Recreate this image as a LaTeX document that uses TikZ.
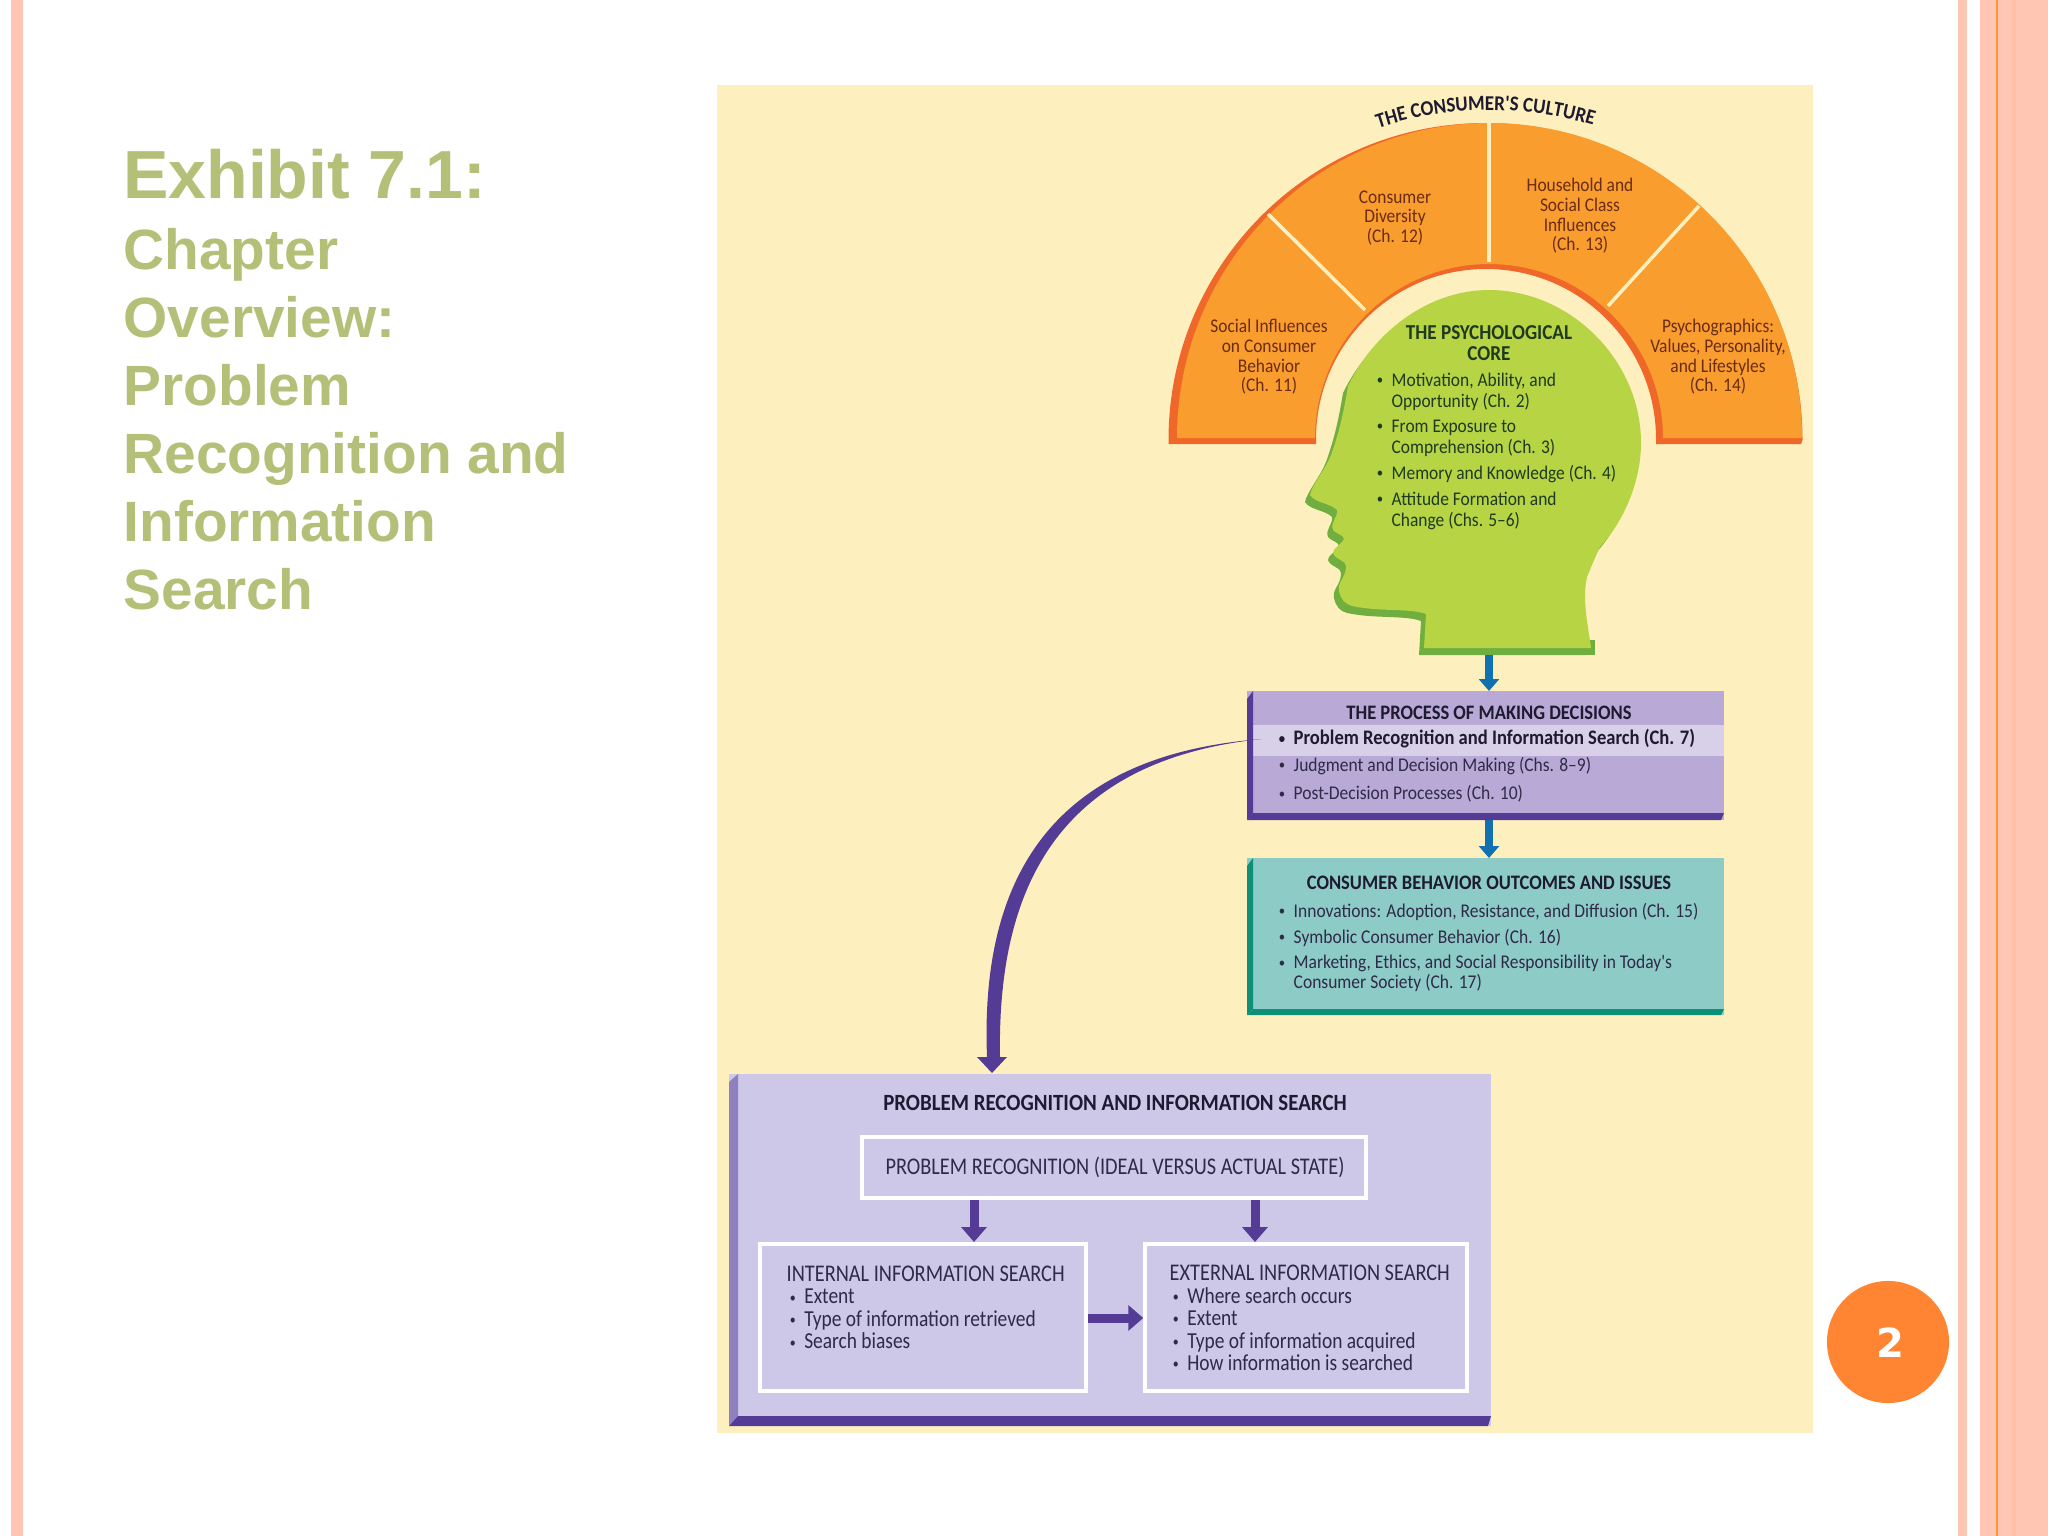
\documentclass[tikz,border=0pt]{standalone}
\usepackage{fontspec}
\setmainfont{Liberation Sans}
\newfontfamily\condfont[FakeStretch=0.9]{Carlito}
\newfontfamily\narrowfont[FakeStretch=0.85]{Carlito}
\newfontfamily\numfont{DejaVu Sans}
\usetikzlibrary{arrows.meta,decorations.text,fit}
\definecolor{stripe}{HTML}{FFC6B4}
\definecolor{panel}{HTML}{FEF0BE}
\definecolor{titlegreen}{HTML}{B4BF78}
\definecolor{orangelight}{HTML}{F99D2E}
\definecolor{orangedark}{HTML}{EF682A}
\definecolor{headlight}{HTML}{B6D444}
\definecolor{headdark}{HTML}{6FAE3F}
\definecolor{proclight}{HTML}{B8A9D6}
\definecolor{procband}{HTML}{D8CFE8}
\definecolor{purpledark}{HTML}{543C96}
\definecolor{outlight}{HTML}{8DCBC7}
\definecolor{outdark}{HTML}{0E8F78}
\definecolor{searchlight}{HTML}{CEC8E8}
\definecolor{searchedge}{HTML}{8F80C0}
\definecolor{bluearrow}{HTML}{1070B0}
\definecolor{pagedot}{HTML}{FF8533}
\definecolor{orangetext}{HTML}{6A2C14}
\definecolor{greentext}{HTML}{1F3A20}
\definecolor{darkink}{HTML}{1E1A30}
\definecolor{softink}{HTML}{2F2A48}
\tikzset{
    plate/.style={inner sep=0pt,outer sep=0pt},
    wbox/.style={draw=white,line width=0.035cm,inner sep=0pt},
    sector/.style={align=center,inner sep=0pt,text=orangetext,
        font=\condfont\fontsize{5.5}{5.6}\selectfont},
    coretext/.style={align=left,anchor=west,inner sep=0pt,text=greentext,
        font=\condfont\fontsize{5.5}{6}\selectfont},
    boxtitle/.style={inner sep=0pt,text=darkink,
        font=\condfont\bfseries\fontsize{5.85}{6}\selectfont},
    boxitem/.style={align=left,anchor=west,inner sep=0pt,text=softink,
        font=\condfont\fontsize{5.53}{5.6}\selectfont},
    searchtext/.style={align=left,inner sep=0pt,text=softink,
        font=\narrowfont\fontsize{6.5}{6.4}\selectfont},
    bluearr/.style={-{Triangle[length=0.12cm,width=0.2cm]},line width=0.075cm,bluearrow},
    purplearr/.style={-{Triangle[length=0.15cm,width=0.25cm]},line width=0.09cm,purpledark},
}
\newcommand{\bu}{\llap{{\fontsize{4}{4}\selectfont\raisebox{0.5pt}{\textbullet}}\hspace{2.4pt}}}
\newcommand{\capsz}{\fontsize{6.8}{6.4}\selectfont}
% left strip and bottom lip of a plate
\newcommand{\plateedge}[5]{%
    \fill[#3] (#1.north west) ++(#4,0) -- ++(-#4,8) -- (#1.south west) -- ++(#4,-#5) -- cycle;
    \fill[#2] (#1.south east) ++(0,-#5) -- ++(-3,#5) -- (#1.south west) -- ++(#4,-#5) -- cycle;}
\def\headpath{(1489,290) .. controls (1430,290) and (1375,330) .. (1348,386)
    .. controls (1344,410) and (1340,430) .. (1331,455)
    .. controls (1325,470) and (1312,485) .. (1310,495)
    .. controls (1315,503) and (1330,503) .. (1337,510)
    .. controls (1338,518) and (1330,522) .. (1333,530)
    .. controls (1336,534) and (1344,535) .. (1344,539)
    .. controls (1340,546) and (1333,548) .. (1333,553)
    .. controls (1335,560) and (1346,560) .. (1346,566)
    .. controls (1346,578) and (1337,582) .. (1339,591)
    .. controls (1341,600) and (1345,604) .. (1352,606)
    .. controls (1380,612) and (1410,608) .. (1426,614)
    -- (1424,648) -- (1591,648)
    .. controls (1588,625) and (1582,600) .. (1587,577)
    .. controls (1592,565) and (1596,555) .. (1600,547)
    .. controls (1625,520) and (1641,480) .. (1641,443)
    .. controls (1641,360) and (1570,290) .. (1489,290) -- cycle}

\begin{document}
\begin{tikzpicture}[x=0.01cm,y=-0.01cm]
    \useasboundingbox (0,0) rectangle (2048,1536);
    \fill[white] (0,0) rectangle (2048,1536);
    % slide frame
    \fill[stripe] (11,0) rectangle (23,1536);
    \fill[stripe] (1958,0) rectangle (1967,1536);
    \fill[stripe] (1980,0) rectangle (2048,1536);
    \fill[stripe!90!orange] (2012,0) rectangle (2016,1536);
    \fill[orange!70!stripe] (1996,0) rectangle (1998,1536);
    \node[anchor=base west,inner sep=0pt,text=titlegreen,
        font=\bfseries\fontsize{19.35}{23}\selectfont] (exhibit) at (122.5,198) {Exhibit 7.1:};
    \node[anchor=west,align=left,inner sep=0pt,text=titlegreen,
        font=\bfseries\fontsize{16.15}{19.35}\selectfont] (chaptitle) at (123,419.5) {Chapter\\Overview:\\Problem\\Recognition and\\Information\\Search};
    \fill[panel] (717,85) rectangle (1813,1433);

    % culture arch
    \fill[orangedark] (1168.5,444) -- (1168.5,440) arc[start angle=180,end angle=360,radius=317]
        -- (1801,444) -- (1656,444) -- (1656,439)
        arc[start angle=360,end angle=180,radius=170] -- (1316,444) -- cycle;
    \fill[orangelight] (1177,438) arc[start angle=180,end angle=360,x radius=312.5,y radius=315]
        -- (1663,438) arc[start angle=360,end angle=180,radius=174] -- cycle;
    \draw[panel,line width=0.035cm] (1489,123) -- (1489,262);
    \draw[panel,line width=0.035cm] (1268,214) -- (1365,310);
    \draw[panel,line width=0.035cm] (1699,206) -- (1608,306);
    \path[decorate,decoration={text along path,text align=center,
        text={|\condfont\bfseries\fontsize{6}{6}\selectfont\color{darkink}|THE CONSUMER'S CULTURE}}]
        (1370,131) .. controls (1445,104) and (1525,104) .. (1602,128);
    \node[sector] (social) at (1269,357) {Social Influences\\on Consumer\\Behavior\\(Ch. 11)};
    \node[sector] (diversity) at (1395,218) {Consumer\\Diversity\\(Ch. 12)};
    \node[sector] (household) at (1580,216) {Household and\\Social Class\\Influences\\(Ch. 13)};
    \node[sector] (psychographics) at (1718,357) {Psychographics:\\Values, Personality,\\and Lifestyles\\(Ch. 14)};

    % head
    \fill[headdark] (1424,640) rectangle (1595,655);
    \fill[headdark,shift={(-5,7)}] \headpath;
    \fill[headlight] \headpath;
    \node[align=center,inner sep=0pt,text=greentext,
        font=\condfont\bfseries\fontsize{6.05}{5.8}\selectfont] (coretitle) at (1489,343) {THE PSYCHOLOGICAL\\CORE};
    \node[coretext] (motivation) at (1391,391.5) {\bu Motivation, Ability, and\\Opportunity (Ch. 2)};
    \node[coretext] (exposure) at (1391,438) {\bu From Exposure to\\Comprehension (Ch. 3)};
    \node[coretext] (memory) at (1391,474) {\bu Memory and Knowledge (Ch. 4)};
    \node[coretext] (attitude) at (1391,510.5) {\bu Attitude Formation and\\Change (Chs. 5–6)};
    \coordinate (headbase) at (1489,655);

    % decision process
    \node[plate,fill=proclight,fit={(1247,691) (1724,820)}] (process) {};
    \fill[procband] (1253,725) rectangle (1724,756);
    \plateedge{process}{purpledark}{purpledark}{6}{7}
    \node[boxtitle] (processtitle) at (1489,713) {THE PROCESS OF MAKING DECISIONS};
    \node[boxitem,text=darkink,font=\condfont\bfseries\fontsize{5.87}{5.6}\selectfont] (problemitem) at (1293,739) {\bu Problem Recognition and Information Search (Ch. 7)};
    \node[boxitem] (judgment) at (1293,766) {\bu Judgment and Decision Making (Chs. 8–9)};
    \node[boxitem] (postdecision) at (1293,794) {\bu Post-Decision Processes (Ch. 10)};

    % outcomes
    \node[plate,fill=outlight,fit={(1247,858) (1724,1015)}] (outcome) {};
    \plateedge{outcome}{outdark}{outdark}{6}{6}
    \node[boxtitle] (outcometitle) at (1489,883) {CONSUMER BEHAVIOR OUTCOMES AND ISSUES};
    \node[boxitem] (innovations) at (1293,912) {\bu Innovations: Adoption, Resistance, and Diffusion (Ch. 15)};
    \node[boxitem] (symbolic) at (1293,938) {\bu Symbolic Consumer Behavior (Ch. 16)};
    \node[boxitem] (marketing) at (1293,973.5) {\bu Marketing, Ethics, and Social Responsibility in Today's\\Consumer Society (Ch. 17)};

    \draw[bluearr] (headbase) -- (headbase |- process.north);
    \draw[bluearr] (headbase |- process.south) -- (headbase |- outcome.north);

    % search plate
    \node[plate,fill=searchlight,fit={(729,1074) (1491,1426)}] (search) {};
    \plateedge{search}{purpledark}{searchedge}{9}{10}
    \node[boxtitle,font=\condfont\bfseries\fontsize{6.6}{6}\selectfont] (searchtitle) at (1115,1103) {PROBLEM RECOGNITION AND INFORMATION SEARCH};
    \node[wbox,fit={(862,1137) (1366,1198)}] (recognition) {};
    \node[searchtext,font=\narrowfont\capsz] (recognitiontext) at (1115,1167) {PROBLEM RECOGNITION (IDEAL VERSUS ACTUAL STATE)};
    \node[wbox,fit={(760,1244) (1086,1391)}] (internal) {};
    \node[wbox,fit={(1145,1244) (1467,1391)}] (external) {};
    \node[searchtext,anchor=west] (internaltext) at (786,1307.5) {{\capsz INTERNAL INFORMATION SEARCH}\\\hspace*{5pt}\bu Extent\\\hspace*{5pt}\bu Type of information retrieved\\\hspace*{5pt}\bu Search biases};
    \node[searchtext,anchor=west] (externaltext) at (1169,1318) {{\capsz EXTERNAL INFORMATION SEARCH}\\\hspace*{5pt}\bu Where search occurs\\\hspace*{5pt}\bu Extent\\\hspace*{5pt}\bu Type of information acquired\\\hspace*{5pt}\bu How information is searched};
    \coordinate (leftdrop) at (974,1242);
    \coordinate (rightdrop) at (1255,1242);
    \draw[purplearr] (leftdrop |- recognition.south) -- (leftdrop);
    \draw[purplearr] (rightdrop |- recognition.south) -- (rightdrop);
    \draw[purplearr] (internal.east |- 0,1318) -- (external.west |- 0,1318);

    % long tapered arrow
    \coordinate (curvestart) at (1262,739);
    \coordinate (curvetip) at (992,1073);
    \fill[purpledark] (curvestart) .. controls (1050,755) and (980,880) .. (987,1057)
        -- (977,1057) -- (curvetip) -- (1007,1057) -- (1000,1057)
        .. controls (997,885) and (1060,760) .. (curvestart) -- cycle;

    \node[circle,fill=pagedot,minimum size=1.22cm,inner sep=0pt] (pagenum) at (1888,1342) {};
    \node[inner sep=0pt,text=white,font=\numfont\bfseries\fontsize{11.4}{12}\selectfont] (pagedigit) at (1890,1343) {2};
\end{tikzpicture}
\end{document}
